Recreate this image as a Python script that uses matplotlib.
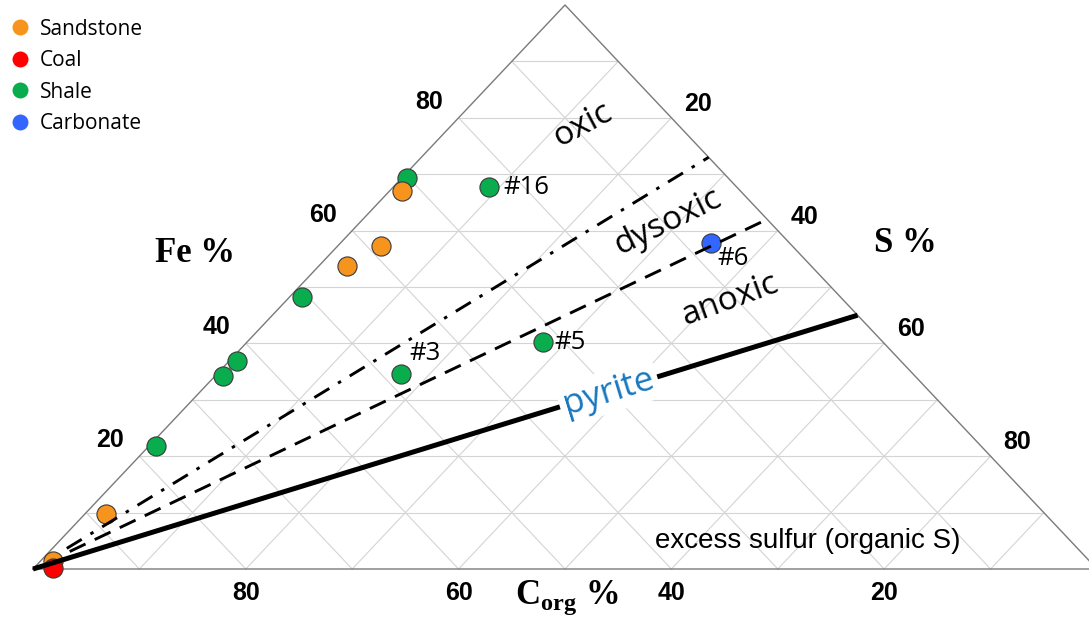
import numpy as np
import matplotlib
matplotlib.use('Agg')
import matplotlib.pyplot as plt
from matplotlib.lines import Line2D

plt.rcParams['mathtext.fontset'] = 'custom'
plt.rcParams['mathtext.rm'] = 'Liberation Serif'
plt.rcParams['mathtext.bf'] = 'Liberation Serif:bold'

# sample compositions, weight % (C_org = 100 - Fe - S)
rock = ['Shale', 'Sandstone', 'Shale', 'Sandstone', 'Sandstone', 'Shale', 'Shale',
        'Shale', 'Shale', 'Shale', 'Shale', 'Carbonate', 'Sandstone', 'Sandstone', 'Coal']
fe = [69.3, 67.0, 67.7, 57.2, 53.7, 48.2, 36.9, 34.2, 21.8, 34.6, 40.2, 57.8, 9.8, 1.4, 0.2]
s = [0.5, 1.2, 9.0, 4.1, 2.7, 1.2, 0.7, 0.8, 0.7, 17.3, 27.8, 34.8, 2.0, 1.2, 1.8]
sample_id = ['', '', '#16', '', '', '', '', '', '', '#3', '#5', '#6', '', '', '']

rock_types = ['Sandstone', 'Coal', 'Shale', 'Carbonate']
rock_colors = {'Sandstone': '#F7941D', 'Coal': '#FF0000', 'Shale': '#0AAD4E', 'Carbonate': '#3366FF'}

# Fe/(Fe+S) of the boundary lines through the C_org corner
pyrite_ratio = 0.45
anoxic_ratio = 0.62
oxic_ratio = 0.73

ticks = [20, 40, 60, 80]

# label offsets (pixels) for the numbered samples
id_offset = {'#16': (14, 0), '#3': (8, 20), '#5': (12, 0), '#6': (7, -15)}


def tern(fe_frac, s_frac):
    fe_frac = np.asarray(fe_frac, dtype=float)
    s_frac = np.asarray(s_frac, dtype=float)
    return s_frac + fe_frac / 2, fe_frac


def px(x, y):
    # pixel position on the canvas -> triangle coordinates
    return (x - 33) / 1064, (569 - y) / 564


fig = plt.figure(figsize=(10.89, 6.24), dpi=100)
ax = fig.add_axes([33 / 1089, 55 / 624, 1064 / 1089, 564 / 624])
ax.set_xlim(0, 1)
ax.set_ylim(0, 1)
ax.axis('off')

# grid
grid_kw = dict(color='#d4d4d4', lw=0.8, zorder=1, clip_on=False)
for k in np.arange(0.1, 1.0, 0.1):
    # constant Fe
    x, y = tern([k, k], [0, 1 - k])
    ax.plot(x, y, **grid_kw)
    # constant S
    x, y = tern([0, 1 - k], [k, k])
    ax.plot(x, y, **grid_kw)
    # constant C
    x, y = tern([0, 1 - k], [1 - k, 0])
    ax.plot(x, y, **grid_kw)

# triangle outline
x, y = tern([0, 0, 1, 0], [0, 1, 0, 0])
ax.plot(x, y, color='#7a7a7a', lw=1.0, zorder=2, clip_on=False)

# samples
for i in range(len(fe)):
    x, y = tern(fe[i] / 100, s[i] / 100)
    ax.scatter(x, y, s=190, color=rock_colors[rock[i]], edgecolor='#3a3a3a',
               linewidth=0.8, zorder=3, clip_on=False)
    if sample_id[i]:
        ax.annotate(sample_id[i], (x, y), xytext=id_offset[sample_id[i]],
                    textcoords='offset pixels', ha='left', va='center',
                    fontsize=18.5, family='Open Sans', zorder=6)


# Fe/S ratio lines from the C_org corner to the Fe-S edge
def ratio_line(r, c_start=0.0):
    c = np.array([1 - c_start, 0.0])
    return tern((1 - c) * r, (1 - c) * (1 - r))


x, y = ratio_line(pyrite_ratio)
ax.plot(x, y, color='black', lw=3.6, solid_capstyle='butt', zorder=4, clip_on=False)
x, y = ratio_line(anoxic_ratio, 0.05)
ax.plot(x, y, color='black', lw=2.1, dashes=(6, 3.5), zorder=4, clip_on=False)
x, y = ratio_line(oxic_ratio, 0.05)
ax.plot(x, y, color='black', lw=2.1, dashes=(6, 3.5, 1.2, 3.5), zorder=4, clip_on=False)

# region labels
region_kw = dict(family='Open Sans', fontsize=24, ha='center', va='center', zorder=6)
ax.text(*tern(0.787, 0.123), 'oxic', rotation=28, **region_kw)
ax.text(*tern(0.615, 0.289), 'dysoxic', rotation=26, **region_kw)
ax.text(*tern(0.477, 0.417), 'anoxic', rotation=20, **region_kw)
c_lab = 0.302
ax.text(*tern((1 - c_lab) * pyrite_ratio, (1 - c_lab) * (1 - pyrite_ratio)), 'pyrite',
        rotation=17, color='#1878C0', family='Open Sans', fontsize=25,
        ha='center', va='center', zorder=5,
        bbox=dict(facecolor='white', edgecolor='none', pad=3))
ax.text(*tern(0.05, 0.703), 'excess sulfur (organic S)', family='Liberation Sans',
        fontsize=20, ha='center', va='center', zorder=6)

# tick labels
tick_kw = dict(textcoords='offset pixels', ha='center', va='center',
               family='Liberation Sans', fontweight='bold', fontsize=18)
for t in ticks:
    v = t / 100
    ax.annotate(str(t), tern(v, 0), xytext=(-29, 16), **tick_kw)       # Fe, left edge
    ax.annotate(str(t), tern(1 - v, v), xytext=(27, 14), **tick_kw)    # S, right edge
    ax.annotate(str(t), tern(0, 1 - v), xytext=(0, -24), **tick_kw)    # C_org, bottom

# axis titles
title_kw = dict(family='Liberation Serif', fontweight='bold', fontsize=25,
                ha='center', va='center')
ax.text(*px(195, 253), 'Fe %', **title_kw)
ax.text(*px(905, 243), 'S %', **title_kw)
ax.text(*px(567, 598), r'$\mathbf{C}_{\mathbf{org}}$ %', **title_kw)

# legend
handles = [Line2D([], [], marker='o', ls='none', markersize=11.5,
                  markerfacecolor=rock_colors[r], markeredgecolor='none', label=r)
           for r in rock_types]
fig.legend(handles=handles, loc='upper left', bbox_to_anchor=(0, 0.99), frameon=False,
           prop={'family': 'Open Sans', 'size': 15}, handlelength=0.75,
           handletextpad=0.57, labelspacing=0.5, borderaxespad=0.3, borderpad=0.3)

fig.savefig('out.png', dpi=100)
